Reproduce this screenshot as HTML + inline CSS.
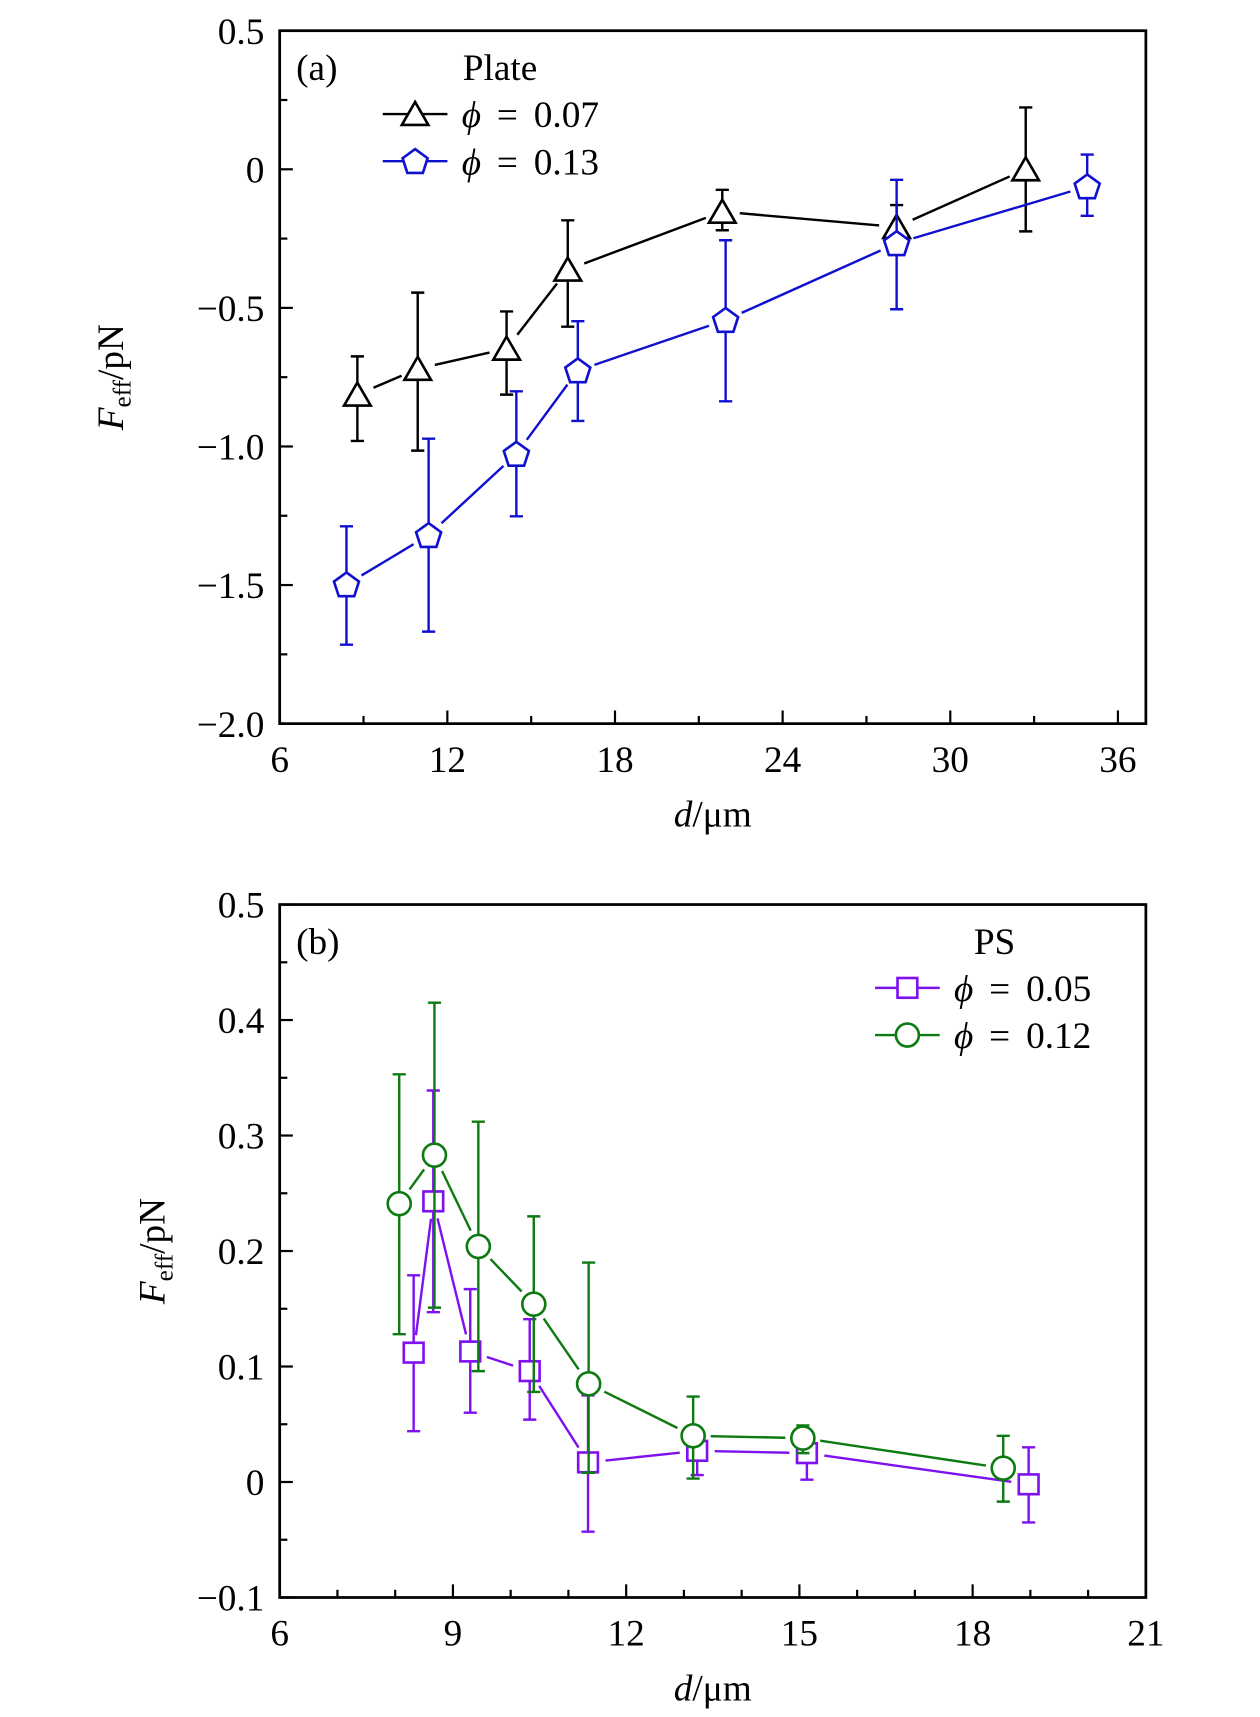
<!DOCTYPE html>
<html><head><meta charset="utf-8"><style>
html,body{margin:0;padding:0;background:#fff;}
svg{display:block;font-family:"Liberation Serif",serif;}
</style></head><body>
<svg id="chart" width="1260" height="1717" viewBox="0 0 1149 1566" xmlns="http://www.w3.org/2000/svg"></svg>
<script>
// Panel (a) data
const aX1 = [8.78, 10.94, 14.12, 16.31, 21.84, 28.08, 32.7];
const aY1 = [-0.813, -0.72, -0.647, -0.362, -0.153, -0.208, 0.0];
const aHi1 = [-0.675, -0.445, -0.513, -0.184, -0.074, -0.129, 0.223];
const aLo1 = [-0.98, -1.015, -0.813, -0.568, -0.22, -0.30, -0.224];
const aX2 = [8.39, 11.33, 14.47, 16.67, 21.96, 28.08, 34.9];
const aY2 = [-1.498, -1.32, -1.027, -0.726, -0.544, -0.267, -0.062];
const aHi2 = [-1.288, -0.972, -0.801, -0.548, -0.256, -0.038, 0.053];
const aLo2 = [-1.715, -1.668, -1.252, -0.908, -0.837, -0.505, -0.168];
const aXTicks = [6, 12, 18, 24, 30, 36];
const aYTicks = [0.5, 0, -0.5, -1.0, -1.5, -2.0];
const aYTickLabels = ["0.5", "0", "\u22120.5", "\u22121.0", "\u22121.5", "\u22122.0"];
// Panel (b) data
const bX1 = [8.32, 8.66, 9.30, 10.33, 11.34, 13.23, 15.13, 18.97];
const bY1 = [0.112, 0.243, 0.113, 0.096, 0.017, 0.027, 0.025, -0.002];
const bHi1 = [0.179, 0.339, 0.167, 0.141, 0.075, 0.039, 0.037, 0.030];
const bLo1 = [0.044, 0.147, 0.060, 0.054, -0.043, 0.006, 0.002, -0.035];
const bX2 = [8.07, 8.68, 9.44, 10.40, 11.35, 13.16, 15.06, 18.53];
const bY2 = [0.241, 0.283, 0.204, 0.154, 0.085, 0.040, 0.038, 0.012];
const bHi2 = [0.353, 0.415, 0.312, 0.230, 0.190, 0.074, 0.049, 0.040];
const bLo2 = [0.128, 0.151, 0.096, 0.078, 0.008, 0.003, 0.025, -0.017];
const bXTicks = [6, 9, 12, 15, 18, 21];
const bYTicks = [0.5, 0.4, 0.3, 0.2, 0.1, 0, -0.1];
const bYTickLabels = ["0.5", "0.4", "0.3", "0.2", "0.1", "0", "\u22120.1"];

const NS = "http://www.w3.org/2000/svg";
const svg = document.getElementById('chart');
function mk(tag, attrs, parent) {
  const e = document.createElementNS(NS, tag);
  for (const k in attrs) e.setAttribute(k, attrs[k]);
  (parent || svg).appendChild(e);
  return e;
}

function panel(cfg) {
  const g = mk('g', {});
  
  
  const L = 255, R = 1045, T = cfg.top, B = cfg.top + 632;
  const sx = v => L + (v - cfg.xmin) / (cfg.xmax - cfg.xmin) * (R - L);
  const sy = v => B - (v - cfg.ymin) / (cfg.ymax - cfg.ymin) * (B - T);
  const ticks = mk('g', {stroke: '#000', 'stroke-width': 2}, g);
  
  
  for (let v = cfg.xmin; v <= cfg.xmax + 1e-9; v += cfg.xminor) {
    const major = Math.abs((v - cfg.xmin) / cfg.xmajor - Math.round((v - cfg.xmin) / cfg.xmajor)) < 1e-6;
    mk('line', {x1: sx(v), x2: sx(v), y1: B, y2: B - (major ? 12 : 7)}, ticks);
  }
  for (let v = cfg.ymin; v <= cfg.ymax + 1e-9; v += cfg.yminor) {
    const major = Math.abs((v - cfg.ymin) / cfg.ymajor - Math.round((v - cfg.ymin) / cfg.ymajor)) < 1e-6;
    mk('line', {x1: L, x2: L + (major ? 12 : 7), y1: sy(v), y2: sy(v)}, ticks);
  }
  const frame = mk('rect', {x: L, y: T, width: R - L, height: B - T, fill: 'none', stroke: '#000', 'stroke-width': 2.5}, g);
  
  
  cfg.xTicks.forEach(v => {
    const t = mk('text', {x: sx(v), y: B + 44, 'font-size': 34, 'text-anchor': 'middle'}, g);
    
    
    t.textContent = String(v);
  });
  cfg.yTicks.forEach((v, i) => {
    const t = mk('text', {x: L - 14, y: sy(v) + 12, 'font-size': 34, 'text-anchor': 'end'}, g);
    
    
    t.textContent = cfg.yLabels[i];
  });
  const xt = mk('text', {x: 650, y: B + 94, 'font-size': 34, 'text-anchor': 'middle'}, g);
  
  
  xt.innerHTML = '<tspan font-style="italic">d</tspan>/μm';
  const cy = (T + B) / 2;
  const yt = mk('text', {x: 0, y: 0, 'font-size': 34, 'text-anchor': 'middle', transform: `translate(${cfg.ytx},${cy}) rotate(-90)`}, g);
  
  
  yt.innerHTML = '<tspan font-style="italic">F</tspan><tspan font-size="23" dy="7">eff</tspan><tspan dy="-7">/pN</tspan>';
  const lab = mk('text', {x: 270, y: T + 45, 'font-size': 34}, g);
  
  
  lab.textContent = cfg.label;

  cfg.series.forEach(s => {
    const sg = mk('g', {}, g);
    
    
    const pts = s.x.map((v, i) => [sx(v), sy(s.y[i])]);
    for (let i = 0; i < pts.length - 1; i++) {
      const [x1, y1] = pts[i], [x2, y2] = pts[i + 1];
      const d = Math.hypot(x2 - x1, y2 - y1), gap = 16;
      if (d <= 2 * gap) continue;
      const ux = (x2 - x1) / d, uy = (y2 - y1) / d;
      const ln = mk('line', {x1: x1 + ux * gap, y1: y1 + uy * gap, x2: x2 - ux * gap, y2: y2 - uy * gap, stroke: s.color, 'stroke-width': 2.2}, sg);
      
      
    }
    pts.forEach(([px, py], i) => {
      const hi = sy(s.hi[i]), lo = sy(s.lo[i]);
      const eb = mk('path', {d: `M${px},${hi}V${lo}M${px - 6},${hi}H${px + 6}M${px - 6},${lo}H${px + 6}`, stroke: s.color, 'stroke-width': 2.2, fill: 'none'}, sg);
      
      
      const m = marker(s.shape, px, py, s.color, sg);
      
      
    });
  });

  const lg = mk('g', {}, g);
  
  
  const lt = mk('text', {x: cfg.legTitleX, y: T + 45, 'font-size': 34, 'text-anchor': 'middle'}, lg);
  
  
  lt.textContent = cfg.legTitle;
  cfg.series.forEach((s, i) => {
    const y = T + 76 + i * 43;
    const e = mk('g', {}, lg);
    
    
    mk('line', {x1: cfg.legX, x2: cfg.legX + 59, y1: y, y2: y, stroke: s.color, 'stroke-width': 2.2}, e);
    marker(s.shape, cfg.legX + 29.5, y, s.color, e);
    const t = mk('text', {x: cfg.legX + 72, y: y + 12, 'font-size': 34, 'word-spacing': 6}, e);
    t.innerHTML = '<tspan font-style="italic">ϕ</tspan> = ' + s.phi;
  });
}

function marker(shape, x, y, c, parent) {
  const a = {fill: '#fff', stroke: c, 'stroke-width': 2.4};
  if (shape === 'circle') return mk('circle', Object.assign({cx: x, cy: y, r: 10.5}, a), parent);
  if (shape === 'square') return mk('rect', Object.assign({x: x - 9, y: y - 9, width: 18, height: 18}, a), parent);
  let n = shape === 'triangle' ? 3 : 5, r = shape === 'triangle' ? 14 : 12, p = [];
  for (let k = 0; k < n; k++) {
    const ang = -Math.PI / 2 + k * 2 * Math.PI / n;
    p.push((x + r * Math.cos(ang)).toFixed(1) + ',' + (y + (shape === 'triangle' ? 3 : 1) + r * Math.sin(ang)).toFixed(1));
  }
  return mk('polygon', Object.assign({points: p.join(' ')}, a), parent);
}

panel({name: 'panel-a', top: 28, xmin: 6, xmax: 37, xmajor: 6, xminor: 3, ymin: -2, ymax: 0.5, ymajor: 0.5, yminor: 0.25,
  xTicks: aXTicks, yTicks: aYTicks, yLabels: aYTickLabels, ytx: 112, label: '(a)', legTitle: 'Plate', legTitleX: 456, legX: 349,
  series: [
    {name: 'series-phi-0.07', x: aX1, y: aY1, hi: aHi1, lo: aLo1, color: '#000', shape: 'triangle', phi: '0.07'},
    {name: 'series-phi-0.13', x: aX2, y: aY2, hi: aHi2, lo: aLo2, color: '#1010d0', shape: 'pentagon', phi: '0.13'}]});
panel({name: 'panel-b', top: 825, xmin: 6, xmax: 21, xmajor: 3, xminor: 1, ymin: -0.1, ymax: 0.5, ymajor: 0.1, yminor: 0.05,
  xTicks: bXTicks, yTicks: bYTicks, yLabels: bYTickLabels, ytx: 150, label: '(b)', legTitle: 'PS', legTitleX: 907, legX: 798,
  series: [
    {name: 'series-phi-0.05', x: bX1, y: bY1, hi: bHi1, lo: bLo1, color: '#7f10f0', shape: 'square', phi: '0.05'},
    {name: 'series-phi-0.12', x: bX2, y: bY2, hi: bHi2, lo: bLo2, color: '#0e7a12', shape: 'circle', phi: '0.12'}]});
</script>
</body></html>
